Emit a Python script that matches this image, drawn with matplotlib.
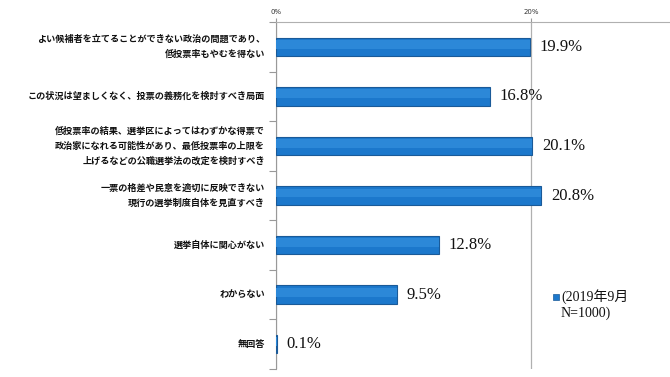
import matplotlib
matplotlib.use("Agg")
import matplotlib.pyplot as plt
import numpy as np

categories = [
    "よい候補者を立てることができない政治の問題であり、\n低投票率もやむを得ない",
    "この状況は望ましくなく、投票の義務化を検討すべき局面",
    "低投票率の結果、選挙区によってはわずかな得票で\n政治家になれる可能性があり、最低投票率の上限を\n上げるなどの公職選挙法の改定を検討すべき",
    "一票の格差や民意を適切に反映できない\n現行の選挙制度自体を見直すべき",
    "選挙自体に関心がない",
    "わからない",
    "無回答",
]
values = [19.9, 16.8, 20.1, 20.8, 12.8, 9.5, 0.1]
xticks = [0, 20]
xtick_labels = ["0%", "20%"]
legend_label = "(2019年9月\nN=1000)"

jp = ["Noto Sans CJK JP", "DejaVu Sans"]
serif = ["Liberation Serif", "Noto Sans CJK JP"]

fig = plt.figure(figsize=(6.7, 3.77), dpi=100)
ax = fig.add_axes([276/670, 1 - 369/377, (670 - 276)/670, (369 - 22)/377])

y = np.arange(len(categories))
ax.barh(y, values, height=0.37, color="#1c78cc", edgecolor="#1a5a98", linewidth=0.8, zorder=3)
# soft highlight in upper half
ax.barh(y - 0.05, values, height=0.18, color="#2c88d8", linewidth=0, zorder=4)

ax.set_ylim(len(categories) - 0.5, -0.5)
ax.set_xlim(0, 30.9)
ax.xaxis.tick_top()
ax.set_xticks(xticks)
ax.set_xticklabels(xtick_labels, fontsize=5, color="#333333")
ax.tick_params(axis="x", length=3, color="#999999", pad=2)
ax.xaxis.grid(True, color="#b0b0b0", linewidth=0.9, zorder=0)

ax.set_yticks(np.arange(len(categories) + 1) - 0.5)
ax.set_yticklabels([])
ax.tick_params(axis="y", length=5, color="#999999")
for i, c in enumerate(categories):
    ax.text(-11/12.75, i, c, ha="right", va="center", fontsize=6.6, fontweight="bold",
            family=jp, linespacing=1.75, color="#111111")

for i, v in enumerate(values):
    ax.text(v + 0.75, i, f"{v:.1f}%", ha="left", va="center", fontsize=12,
            family=serif, color="#111111")

for s in ["right", "bottom"]:
    ax.spines[s].set_visible(False)
ax.spines["left"].set_color("#999999")
ax.spines["top"].set_color("#b0b0b0")

# legend
fig.patches.append(plt.Rectangle((553/670, 1 - 300/377), 6/670, 6/377, transform=fig.transFigure,
                                 facecolor="#1c78cc", edgecolor="#1a5a98", linewidth=0.5))
fig.text(561/670, 1 - 289/377, legend_label, ha="left", va="top", fontsize=10,
         family=serif, linespacing=1.25, color="#111111")

fig.savefig("out.png", dpi=100)
